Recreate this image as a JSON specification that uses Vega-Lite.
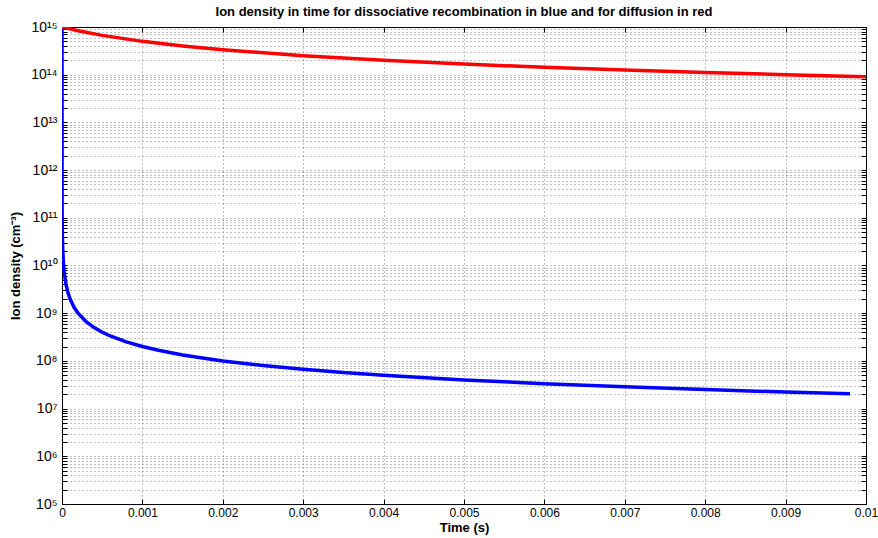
{
  "$schema": "https://vega.github.io/schema/vega-lite/v6.json",
  "width": 804,
  "height": 477,
  "autosize": {"type": "none"},
  "padding": {"left": 62, "top": 27, "right": 12, "bottom": 34},
  "background": "white",
  "title": {
    "text": "Ion density in time for dissociative recombination in blue and for diffusion in red",
    "font": "Liberation Sans",
    "fontSize": 13,
    "fontWeight": "bold",
    "color": "black",
    "anchor": "middle",
    "offset": 0,
    "baseline": "bottom",
    "dy": 12
  },
  "config": {
    "view": {"stroke": "black", "strokeWidth": 1},
    "font": "Liberation Sans",
    "axis": {
      "domain": false,
      "tickColor": "black",
      "tickSize": -5,
      "labelColor": "black",
      "labelFontSize": 12,
      "labelFont": "Liberation Sans",
      "titleFont": "Liberation Sans",
      "titleColor": "black",
      "titleFontSize": 13,
      "titleFontWeight": "bold",
      "gridColor": "#000000",
      "gridOpacity": 0.5,
      "gridDash": [1, 3],
      "labelFlush": false,
      "labelOverlap": false,
      "labelBound": false
    }
  },
  "datasets": {
    "blue": [
      {"t": 0, "n": 1e15},
      {"t": 0.000001, "n": 2.0e11},
      {"t": 0.000002, "n": 1.0e11},
      {"t": 0.000005, "n": 4.0e10},
      {"t": 0.00001, "n": 2.0e10},
      {"t": 0.00002, "n": 1.0e10},
      {"t": 0.00003, "n": 6.67e9},
      {"t": 0.00005, "n": 4.0e9},
      {"t": 0.00007, "n": 2.86e9},
      {"t": 0.0001, "n": 2.0e9},
      {"t": 0.00015, "n": 1.33e9},
      {"t": 0.0002, "n": 1.0e9},
      {"t": 0.0003, "n": 6.67e8},
      {"t": 0.0004, "n": 5.0e8},
      {"t": 0.0005, "n": 4.0e8},
      {"t": 0.0006, "n": 3.33e8},
      {"t": 0.0008, "n": 2.5e8},
      {"t": 0.001, "n": 2.0e8},
      {"t": 0.0012, "n": 1.67e8},
      {"t": 0.0015, "n": 1.33e8},
      {"t": 0.002, "n": 1.0e8},
      {"t": 0.0025, "n": 8.0e7},
      {"t": 0.003, "n": 6.67e7},
      {"t": 0.0035, "n": 5.71e7},
      {"t": 0.004, "n": 5.0e7},
      {"t": 0.005, "n": 4.0e7},
      {"t": 0.006, "n": 3.33e7},
      {"t": 0.007, "n": 2.86e7},
      {"t": 0.008, "n": 2.5e7},
      {"t": 0.009, "n": 2.22e7},
      {"t": 0.0098, "n": 2.04e7}
    ],
    "red": [
      {"t": 0, "n": 1e15},
      {"t": 0.0002, "n": 8.33e14},
      {"t": 0.0005, "n": 6.67e14},
      {"t": 0.001, "n": 5.0e14},
      {"t": 0.0015, "n": 4.0e14},
      {"t": 0.002, "n": 3.33e14},
      {"t": 0.003, "n": 2.5e14},
      {"t": 0.004, "n": 2.0e14},
      {"t": 0.005, "n": 1.67e14},
      {"t": 0.006, "n": 1.43e14},
      {"t": 0.007, "n": 1.25e14},
      {"t": 0.008, "n": 1.11e14},
      {"t": 0.009, "n": 1.0e14},
      {"t": 0.01, "n": 9.09e13}
    ]
  },
  "layer": [
    {
      "data": {"name": "blue"},
      "mark": {"type": "line", "color": "#0000ff", "strokeWidth": 3.5, "clip": true},
      "encoding": {
        "x": {
          "field": "t",
          "type": "quantitative",
          "scale": {"domain": [0, 0.01], "nice": false, "zero": false},
          "axis": {
            "orient": "bottom",
            "title": "Time (s)",
            "values": [0, 0.001, 0.002, 0.003, 0.004, 0.005, 0.006, 0.007, 0.008, 0.009, 0.01],
            "format": "~g",
            "grid": true,
            "labelPadding": 8,
            "titlePadding": 3
          }
        },
        "y": {
          "field": "n",
          "type": "quantitative",
          "scale": {"type": "log", "domain": [1e5, 1e15], "nice": false},
          "axis": {
            "orient": "left",
            "title": "Ion density (cm⁻³)",
            "grid": true,
            "labelPadding": 10,
            "titlePadding": 8,
            "labelFontSize": 14,
            "values": [1e5,2e5,3e5,4e5,5e5,6e5,7e5,8e5,9e5,1e6,2e6,3e6,4e6,5e6,6e6,7e6,8e6,9e6,1e7,2e7,3e7,4e7,5e7,6e7,7e7,8e7,9e7,1e8,2e8,3e8,4e8,5e8,6e8,7e8,8e8,9e8,1e9,2e9,3e9,4e9,5e9,6e9,7e9,8e9,9e9,1e10,2e10,3e10,4e10,5e10,6e10,7e10,8e10,9e10,1e11,2e11,3e11,4e11,5e11,6e11,7e11,8e11,9e11,1e12,2e12,3e12,4e12,5e12,6e12,7e12,8e12,9e12,1e13,2e13,3e13,4e13,5e13,6e13,7e13,8e13,9e13,1e14,2e14,3e14,4e14,5e14,6e14,7e14,8e14,9e14,1e15],
            "labelExpr": "abs(log(datum.value)/LN10 - round(log(datum.value)/LN10)) < 0.001 ? '10' + (round(log(datum.value)/LN10) >= 10 ? '¹' : '') + substring('⁰¹²³⁴⁵⁶⁷⁸⁹', round(log(datum.value)/LN10) % 10, round(log(datum.value)/LN10) % 10 + 1) : ''"
          }
        }
      }
    },
    {
      "data": {"name": "red"},
      "mark": {"type": "line", "color": "#ff0000", "strokeWidth": 3.5, "clip": true},
      "encoding": {
        "x": {
          "field": "t",
          "type": "quantitative",
          "axis": {
            "orient": "top",
            "title": null,
            "labels": false,
            "grid": false,
            "values": [0, 0.001, 0.002, 0.003, 0.004, 0.005, 0.006, 0.007, 0.008, 0.009, 0.01]
          }
        },
        "y": {
          "field": "n",
          "type": "quantitative",
          "axis": {
            "orient": "right",
            "title": null,
            "labels": false,
            "grid": false,
            "values": [1e5,2e5,3e5,4e5,5e5,6e5,7e5,8e5,9e5,1e6,2e6,3e6,4e6,5e6,6e6,7e6,8e6,9e6,1e7,2e7,3e7,4e7,5e7,6e7,7e7,8e7,9e7,1e8,2e8,3e8,4e8,5e8,6e8,7e8,8e8,9e8,1e9,2e9,3e9,4e9,5e9,6e9,7e9,8e9,9e9,1e10,2e10,3e10,4e10,5e10,6e10,7e10,8e10,9e10,1e11,2e11,3e11,4e11,5e11,6e11,7e11,8e11,9e11,1e12,2e12,3e12,4e12,5e12,6e12,7e12,8e12,9e12,1e13,2e13,3e13,4e13,5e13,6e13,7e13,8e13,9e13,1e14,2e14,3e14,4e14,5e14,6e14,7e14,8e14,9e14,1e15]
          }
        }
      }
    }
  ],
  "resolve": {"axis": {"x": "independent", "y": "independent"}}
}
